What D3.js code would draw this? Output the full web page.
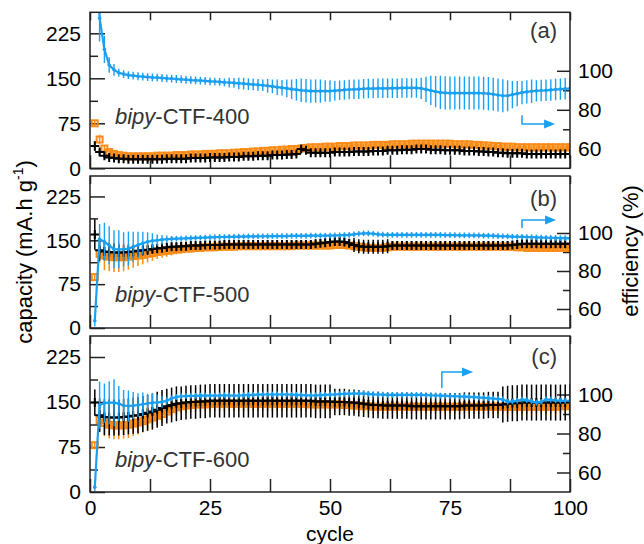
<!DOCTYPE html>
<html>
<head>
<meta charset="utf-8">
<script src="https://cdn.jsdelivr.net/npm/d3@7"></script>
<style>
  body { margin: 0; background: #fff; }
  svg text { font-family: "Liberation Sans", Arial, Helvetica, sans-serif; }
</style>
</head>
<body>
<svg id="chart" width="644" height="544"></svg>
<script>
// ---- axes ----
const cycleTicks = [0, 25, 50, 75, 100];
const cycleMinor = [12.5, 37.5, 62.5, 87.5];
const capacityTicks = [0, 75, 150, 225];
const capacityMinor = [37.5, 112.5, 187.5];
const efficiencyTicks = [60, 80, 100];
const efficiencyMinor = [70, 90];
const capacityDomain = [0, 260];
const efficiencyDomain = [50, 130];

// ---- samples ----
const sampleNames = ["400", "500", "600"];
const panelTags = ["(a)", "(b)", "(c)"];
const cycles = d3.range(1, 101);

// bipy-CTF-400
const discharge400 = [
  75,48,33,27,24,22,21,20,20,20,
  20,20,20,21,21,21,21,22,22,22,
  23,23,23,24,24,24,25,25,25,26,
  26,27,27,28,28,29,29,30,30,31,
  31,32,32,33,34,35,35,35,36,36,
  36,37,37,37,38,38,38,38,39,39,
  39,39,40,40,40,40,41,41,41,41,
  41,41,41,41,41,40,40,40,40,39,
  39,38,38,37,37,36,36,36,35,35,
  35,35,35,35,35,35,35,35,35,35];
const dischargeErr400 = [
  4,8,5,4,3,3,3,3,3,3,
  3,3,3,3,3,3,3,3,3,3,
  3,3,3,3,3,3,3,3,3,3,
  3,3,3,3,3,3,3,3,3,3,
  3,3,3,3,3,3,3,3,3,3,
  3,3,3,3,3,3,3,3,3,3,
  3,3,3,3,3,3,3,3,3,3,
  3,3,3,3,3,3,3,3,3,3,
  3,3,3,3,3,3,3,3,3,3,
  3,3,3,3,3,3,3,3,3,3];
const charge400 = [
  37,27,21,18,17,16,16,15,15,15,
  15,15,15,15,15,16,16,16,16,16,
  17,17,17,17,18,18,18,18,19,19,
  19,20,20,20,21,21,21,22,22,22,
  23,23,24,32,30,26,26,26,26,26,
  27,27,27,27,28,28,28,28,29,29,
  29,30,30,30,31,31,31,32,32,32,
  31,31,31,30,30,30,30,29,29,29,
  28,28,27,27,26,26,25,25,25,25,
  24,24,24,24,24,24,24,24,24,24];
const chargeErr400 = [
  8,5,4,4,4,4,4,4,4,4,
  4,4,4,4,4,4,4,4,4,4,
  4,4,4,4,4,4,4,4,4,4,
  4,4,4,4,4,4,4,4,4,4,
  4,4,4,6,6,4,4,4,4,4,
  4,4,4,4,4,4,4,4,4,4,
  4,4,4,4,4,4,4,4,4,4,
  4,4,4,4,4,4,4,4,4,4,
  4,4,4,4,4,4,4,4,4,4,
  4,4,4,4,4,4,4,4,4,4];
const efficiency400 = [
  180,127,111,103,100.5,99,98.3,97.8,97.5,97.2,
  97,96.8,96.6,96.5,96.3,96.1,96,95.8,95.6,95.4,
  95.2,95.1,95,94.8,94.6,94.5,94.3,94.1,94,93.8,
  93.6,93.4,93.2,93,92.8,92.6,92.3,92,91.6,91.3,
  91,90.6,90.3,90,89.8,89.6,89.6,89.6,89.6,89.6,
  89.8,90,90.2,90.4,90.5,90.6,90.8,90.9,90.9,91,
  91,91,91.1,91.1,91.2,91.2,91.2,91.2,91,90.5,
  89.9,89.3,88.9,88.7,88.6,88.6,88.6,88.6,88.6,88.6,
  88.6,88.5,88.3,88,87.6,87.2,87.2,87.8,88.3,88.8,
  89.2,89.5,89.7,89.9,90,90.2,90.4,90.6,90.8,90.9];
const efficiencyErr400 = [
  30,12,7,4,3,2,2,2,2,2,
  2,2,2,2,2,2,2,2,2,2,
  2,2,2,2,2,2,2,2,2.5,2.5,
  3,3,3,3,3,3,3.5,3.5,4,4,
  4.5,5,5.5,6,6,6,6,6,5.5,5.5,
  5,5,5,5,5,5,5,5,5,5,
  5,5,5,5,5,5,5,5,5.5,6.5,
  7.5,8,8.5,8.5,8.5,8.5,8.5,8.5,8.5,8.5,
  8.5,8.5,8.5,8.5,8.5,8.5,8,7,6.5,6,
  6,6,5.5,5.5,5.5,5.5,5.5,5.5,5.5,5.5];

// bipy-CTF-500
const discharge500 = [
  87,127,124,122,121,121,121,122,123,124,
  125,127,128,130,131,132,133,134,135,136,
  136,137,137,138,138,138,139,139,139,139,
  140,140,140,140,140,140,140,140,140,140,
  140,140,141,141,141,141,141,141,141,141,
  142,142,142,141,140,139,138,137,137,137,
  137,138,139,139,139,139,139,139,139,139,
  139,139,139,139,139,139,139,139,139,139,
  139,139,139,139,139,139,139,139,138,138,
  137,137,137,137,137,137,137,137,137,137];
const dischargeErr500 = [
  5,15,25,25,25,25,24,22,20,18,
  16,15,13,12,11,10,9,8,8,7,
  7,6,6,6,6,5,5,5,5,5,
  5,5,5,5,5,5,5,5,5,5,
  5,5,5,5,5,5,5,5,5,5,
  5,5,5,5,5,5,5,5,5,5,
  5,5,5,5,5,5,5,5,5,5,
  5,5,5,5,5,5,5,5,5,5,
  5,5,5,5,5,5,5,5,5,5,
  5,5,5,5,5,5,5,5,5,5];
const charge500 = [
  160,133,131,130,129,129,129,130,131,132,
  133,134,135,136,137,138,139,139,140,140,
  141,141,141,142,142,142,142,143,143,143,
  143,143,143,143,143,143,143,143,143,143,
  143,143,143,143,143,143,144,145,146,147,
  148,148,147,145,142,140,139,139,139,139,
  139,140,141,141,141,141,141,141,141,141,
  141,141,141,141,141,141,141,141,141,141,
  141,141,141,141,141,141,141,142,143,144,
  144,144,144,144,144,144,144,144,144,144];
const chargeErr500 = [
  26,18,15,15,15,14,13,12,11,10,
  9,9,8,8,8,7,7,7,7,7,
  7,7,7,7,7,7,7,7,7,7,
  7,7,7,7,7,7,7,7,7,7,
  7,7,7,7,7,7,7,7,7,7,
  7,7,7,7,12,12,12,12,12,12,
  12,12,7,7,7,7,7,7,7,7,
  7,7,7,7,7,7,7,7,7,7,
  7,7,7,7,7,7,7,7,7,7,
  7,7,7,7,7,7,7,7,7,7];
const efficiency500 = [
  53.8,96.7,95.4,93.5,91.5,91.4,91.4,91.8,92.7,93.7,
  94.6,95.4,95.9,96.2,96.5,96.7,96.9,97,97.1,97.2,
  97.3,97.4,97.5,97.6,97.7,97.8,97.9,97.9,98,98,
  98.1,98.1,98.2,98.2,98.3,98.3,98.3,98.4,98.4,98.4,
  98.4,98.5,98.5,98.5,98.5,98.6,98.6,98.6,98.6,98.6,
  98.7,98.8,98.9,99,99.3,99.6,99.8,99.8,99.6,99.3,
  99.1,99,99,99,99,99,99,99,99,99,
  99,99,99,98.9,98.9,98.9,98.8,98.8,98.8,98.7,
  98.7,98.6,98.6,98.5,98.4,98.3,98.2,98.1,98,98,
  97.9,97.8,97.7,97.6,97.5,97.5,97.4,97.3,97.3,97.2];
const efficiencyErr500 = [
  3,8,10,10,10,10,9,9,8,7,
  6,5,4,3,2.5,2,1.5,1.5,1.5,1.5,
  1.5,1.5,1.5,1.5,1.5,1.5,1.5,1.5,1.5,1.5,
  1.5,1.5,1.5,1.5,1.5,1.5,1.5,1.5,1.5,1.5,
  1.5,1.5,1.5,1.5,1.5,1.5,1.5,1.5,1.5,1.5,
  1.5,1.5,1.5,1.5,1.5,1.5,1.5,1.5,1.5,1.5,
  1.5,1.5,1.5,1.5,1.5,1.5,1.5,1.5,1.5,1.5,
  1.5,1.5,1.5,1.5,1.5,1.5,1.5,1.5,1.5,1.5,
  1.5,1.5,1.5,1.5,1.5,1.5,1.5,1.5,1.5,1.5,
  1.5,1.5,1.5,1.5,1.5,1.5,1.5,1.5,1.5,1.5];

// bipy-CTF-600
const discharge600 = [
  78,120,115,112,111,111,111,112,114,116,
  118,121,124,127,130,134,138,141,143,144,
  145,146,146,146,147,147,147,147,147,147,
  147,147,147,147,147,147,147,147,147,147,
  147,147,147,147,147,146,146,146,146,146,
  146,146,145,145,144,144,143,143,142,142,
  142,142,142,142,142,142,142,142,142,142,
  142,142,142,142,142,142,142,142,142,142,
  142,142,142,142,142,142,142,142,142,142,
  142,142,142,142,142,142,142,143,143,143];
const dischargeErr600 = [
  5,18,22,23,23,23,22,22,21,20,
  19,18,17,16,15,14,13,13,12,12,
  12,12,12,12,12,12,12,12,12,12,
  12,12,12,12,12,12,12,12,12,12,
  12,12,12,12,12,12,12,12,12,12,
  12,12,12,12,12,12,12,12,12,12,
  12,12,12,12,12,12,12,12,12,12,
  12,12,12,12,12,12,12,12,12,12,
  12,12,12,12,12,12,12,12,12,12,
  12,12,12,12,12,12,12,12,12,12];
const charge600 = [
  149,128,125,124,124,124,125,126,127,128,
  130,132,134,137,140,143,145,147,148,149,
  150,150,151,151,152,152,152,152,152,152,
  152,152,152,152,152,152,152,152,152,152,
  152,152,152,152,152,152,151,151,151,151,
  150,150,150,149,149,148,147,146,145,145,
  144,144,144,144,144,144,143,143,143,143,
  143,143,143,143,143,143,143,144,144,144,
  144,144,145,145,145,146,147,148,148,149,
  149,149,149,149,149,149,149,149,149,150];
const chargeErr600 = [
  22,28,30,30,30,30,30,30,30,30,
  30,30,30,30,30,29,29,29,28,28,
  28,28,28,28,28,28,28,28,28,28,
  28,28,28,28,28,28,28,28,28,28,
  28,28,28,28,28,28,28,28,28,28,
  22,22,22,22,22,22,22,22,22,22,
  22,22,22,22,22,22,22,22,22,22,
  22,22,22,22,22,22,22,22,22,22,
  22,22,22,22,22,30,30,30,30,30,
  30,30,30,30,30,30,30,30,30,30];
const efficiency600 = [
  52.4,94.6,95.6,95.8,95.8,95.3,94.3,94.1,94.3,94.6,
  95,95.4,95.8,95.9,96.2,96.8,98,98.7,99.1,99.2,
  99.3,99.3,99.4,99.4,99.4,99.4,99.5,99.6,99.5,99.4,
  99.5,99.6,99.7,99.8,99.9,100,100,100,100,100,
  100,99.9,99.8,99.7,99.6,99.5,99.6,99.7,99.8,99.9,
  100,100.2,100.3,100.4,100.5,100.5,100.5,100.3,100.1,100,
  99.9,99.8,99.8,99.8,99.8,99.8,99.8,99.8,99.8,99.7,
  99.6,99.5,99.4,99.3,99.2,99.1,99,98.9,98.8,98.7,
  98.5,98.3,98.1,97.9,97.7,97.5,96.3,96.4,96.8,97.4,
  97.1,96.5,95.8,96.2,97.5,97.3,97,96.9,96.8,96.8];
const efficiencyErr600 = [
  2,12,10,11,12,9,8,8,7,6,
  6,5,5,4,3,2,1.5,1.5,1.5,1.5,
  1.5,1.5,1.5,1.5,1.5,1.5,1.5,1.5,1.5,1.5,
  1.5,1.5,1.5,1.5,1.5,1.5,1.5,1.5,1.5,1.5,
  1.5,1.5,1.5,1.5,1.5,1.5,1.5,1.5,1.5,1.5,
  1.5,1.5,1.5,1.5,1.5,1.5,1.5,1.5,1.5,1.5,
  1.5,1.5,1.5,1.5,1.5,1.5,1.5,1.5,1.5,1.5,
  1.5,1.5,1.5,1.5,1.5,1.5,1.5,1.5,1.5,1.5,
  1.5,1.5,1.5,1.5,1.5,1.5,1.5,1.5,1.5,1.5,
  1.5,1.5,1.5,1.5,1.5,1.5,1.5,1.5,1.5,1.5];

const sampleData = [
  {discharge: discharge400, dischargeErr: dischargeErr400, charge: charge400, chargeErr: chargeErr400, efficiency: efficiency400, efficiencyErr: efficiencyErr400},
  {discharge: discharge500, dischargeErr: dischargeErr500, charge: charge500, chargeErr: chargeErr500, efficiency: efficiency500, efficiencyErr: efficiencyErr500},
  {discharge: discharge600, dischargeErr: dischargeErr600, charge: charge600, chargeErr: chargeErr600, efficiency: efficiency600, efficiencyErr: efficiencyErr600}
];

// ---- layout ----
const frameLeft = 90, frameRight = 570;
const panelTops = [12.3, 176, 336];
const panelBottoms = [168.3, 328, 492];
const tagBaselines = [38, 206, 364];
const nameBaselines = [124, 302, 467];
// arrow pointing at the right-hand axis, in fractions of the frame
const arrowGeom = [
  {x0: 0.900, y0: 0.660, y1: 0.716, x1: 0.969},
  {x0: 0.900, y0: 0.342, y1: 0.290, x1: 0.971},
  {x0: 0.733, y0: 0.333, y1: 0.231, x1: 0.798}
];

const orange = "#f98b16";
const blue = "#1b9ff0";
const ink = "#222";
const labelGrey = "#333";

const svg = d3.select("#chart");
const x = d3.scaleLinear().domain([0, 100]).range([frameLeft, frameRight]);

function styleAxis(g, fontSize) {
  g.attr("font-family", null).attr("font-size", fontSize);
  g.select(".domain").remove();
  g.selectAll(".tick line").attr("stroke", ink).attr("stroke-width", 1.5);
  g.selectAll(".tick text").attr("fill", "#000");
}

sampleData.forEach((s, i) => {
  const top = panelTops[i], bottom = panelBottoms[i];
  const yCap = d3.scaleLinear().domain(capacityDomain).range([bottom, top]);
  const yEff = d3.scaleLinear().domain(efficiencyDomain).range([bottom, top]);
  const last = i === sampleData.length - 1;
  const panel = svg.append("g");

  const clipId = "clip" + i;
  svg.append("clipPath").attr("id", clipId)
    .append("rect").attr("x", frameLeft).attr("y", top)
    .attr("width", frameRight - frameLeft).attr("height", bottom - top);

  // axes and ticks
  panel.append("g").attr("transform", `translate(${frameLeft},0)`)
    .call(d3.axisLeft(yCap).tickValues(capacityTicks).tickSize(-15).tickPadding(9))
    .call(g => styleAxis(g, 21));
  panel.append("g").attr("transform", `translate(${frameLeft},0)`)
    .call(d3.axisLeft(yCap).tickValues(capacityMinor).tickSize(-8).tickFormat(""))
    .call(g => styleAxis(g, 21));
  panel.append("g").attr("transform", `translate(${frameRight},0)`)
    .call(d3.axisRight(yEff).tickValues(efficiencyTicks).tickSize(-13).tickPadding(8))
    .call(g => styleAxis(g, 21));
  panel.append("g").attr("transform", `translate(${frameRight},0)`)
    .call(d3.axisRight(yEff).tickValues(efficiencyMinor).tickSize(-7).tickFormat(""))
    .call(g => styleAxis(g, 21));
  panel.append("g").attr("transform", `translate(0,${bottom})`)
    .call(d3.axisBottom(x).tickValues(cycleTicks.concat(cycleMinor).sort((a, b) => a - b))
      .tickSize(-13).tickPadding(8)
      .tickFormat(d => (last && cycleTicks.includes(d)) ? d : ""))
    .call(g => styleAxis(g, 21));
  panel.append("g").attr("transform", `translate(0,${top})`)
    .call(d3.axisTop(x).tickValues(cycleTicks.concat(cycleMinor)).tickSize(-8).tickFormat(""))
    .call(g => styleAxis(g, 21));

  const plot = panel.append("g").attr("clip-path", `url(#${clipId})`);

  // discharge capacity: open squares with error bars
  const gD = plot.append("g");
  gD.selectAll("line").data(cycles).join("line")
    .attr("x1", c => x(c)).attr("x2", c => x(c))
    .attr("y1", (c, k) => yCap(s.discharge[k] - s.dischargeErr[k]))
    .attr("y2", (c, k) => yCap(s.discharge[k] + s.dischargeErr[k]))
    .attr("stroke", orange).attr("stroke-width", 1.5);
  gD.selectAll("rect").data(cycles).join("rect")
    .attr("x", c => x(c) - 3).attr("y", (c, k) => yCap(s.discharge[k]) - 3)
    .attr("width", 6).attr("height", 6)
    .attr("fill", "none").attr("stroke", orange).attr("stroke-width", 2);

  // charge capacity: plus markers with error bars
  const gC = plot.append("g");
  gC.selectAll("line.err").data(cycles).join("line").attr("class", "err")
    .attr("x1", c => x(c)).attr("x2", c => x(c))
    .attr("y1", (c, k) => yCap(s.charge[k] - s.chargeErr[k]))
    .attr("y2", (c, k) => yCap(s.charge[k] + s.chargeErr[k]))
    .attr("stroke", "#000").attr("stroke-width", 1.5);
  gC.selectAll("path.plus").data(cycles).join("path").attr("class", "plus")
    .attr("d", (c, k) => {
      const px = x(c), py = yCap(s.charge[k]);
      return `M${px - 4.5},${py}H${px + 4.5}M${px},${py - 4.5}V${py + 4.5}`;
    })
    .attr("stroke", "#000").attr("stroke-width", 2);

  // coulombic efficiency: line, dots and error bars on the right axis
  const gE = plot.append("g");
  gE.selectAll("line").data(cycles).join("line")
    .attr("x1", c => x(c)).attr("x2", c => x(c))
    .attr("y1", (c, k) => yEff(s.efficiency[k] - s.efficiencyErr[k]))
    .attr("y2", (c, k) => yEff(s.efficiency[k] + s.efficiencyErr[k]))
    .attr("stroke", blue).attr("stroke-width", 1.4);
  gE.append("path")
    .datum(cycles)
    .attr("d", d3.line().x(c => x(c)).y((c, k) => yEff(s.efficiency[k])))
    .attr("fill", "none").attr("stroke", blue).attr("stroke-width", 2.2);
  gE.selectAll("circle").data(cycles).join("circle")
    .attr("cx", c => x(c)).attr("cy", (c, k) => yEff(s.efficiency[k]))
    .attr("r", 1.8).attr("fill", blue);

  // frame
  panel.append("rect")
    .attr("x", frameLeft).attr("y", top)
    .attr("width", frameRight - frameLeft).attr("height", bottom - top)
    .attr("fill", "none").attr("stroke", ink).attr("stroke-width", 1.5);

  // arrow towards the efficiency axis
  const a = arrowGeom[i];
  const w = frameRight - frameLeft, h = bottom - top;
  const ax0 = frameLeft + a.x0 * w, ay0 = top + a.y0 * h;
  const ay1 = top + a.y1 * h, ax1 = frameLeft + a.x1 * w;
  panel.append("path")
    .attr("d", `M${ax0},${ay0}V${ay1}H${ax1 - 9}`)
    .attr("fill", "none").attr("stroke", blue).attr("stroke-width", 1.5);
  panel.append("path")
    .attr("d", `M${ax1},${ay1}L${ax1 - 11},${ay1 - 4.5}L${ax1 - 11},${ay1 + 4.5}Z`)
    .attr("fill", blue);

  // panel tag and sample name
  panel.append("text")
    .attr("x", 557).attr("y", tagBaselines[i])
    .attr("text-anchor", "end").attr("font-size", 22).attr("fill", labelGrey)
    .text(panelTags[i]);
  const name = panel.append("text")
    .attr("x", 115).attr("y", nameBaselines[i])
    .attr("font-size", 22).attr("fill", labelGrey);
  name.append("tspan").attr("font-style", "italic").text("bipy");
  name.append("tspan").text("-CTF-" + sampleNames[i]);
});

// axis titles
const capTitle = svg.append("text")
  .attr("transform", "translate(32,252) rotate(-90)")
  .attr("text-anchor", "middle").attr("font-size", 22).attr("fill", "#000");
capTitle.append("tspan").text("capacity (mA.h g");
capTitle.append("tspan").attr("font-size", 14).attr("dy", -9).text("-1");
capTitle.append("tspan").attr("dy", 9).text(")");

svg.append("text")
  .attr("transform", "translate(638,251) rotate(-90)")
  .attr("text-anchor", "middle").attr("font-size", 22).attr("fill", "#000")
  .text("efficiency (%)");

svg.append("text")
  .attr("x", 330).attr("y", 541)
  .attr("text-anchor", "middle").attr("font-size", 21).attr("fill", "#000")
  .text("cycle");
</script>
</body>
</html>
